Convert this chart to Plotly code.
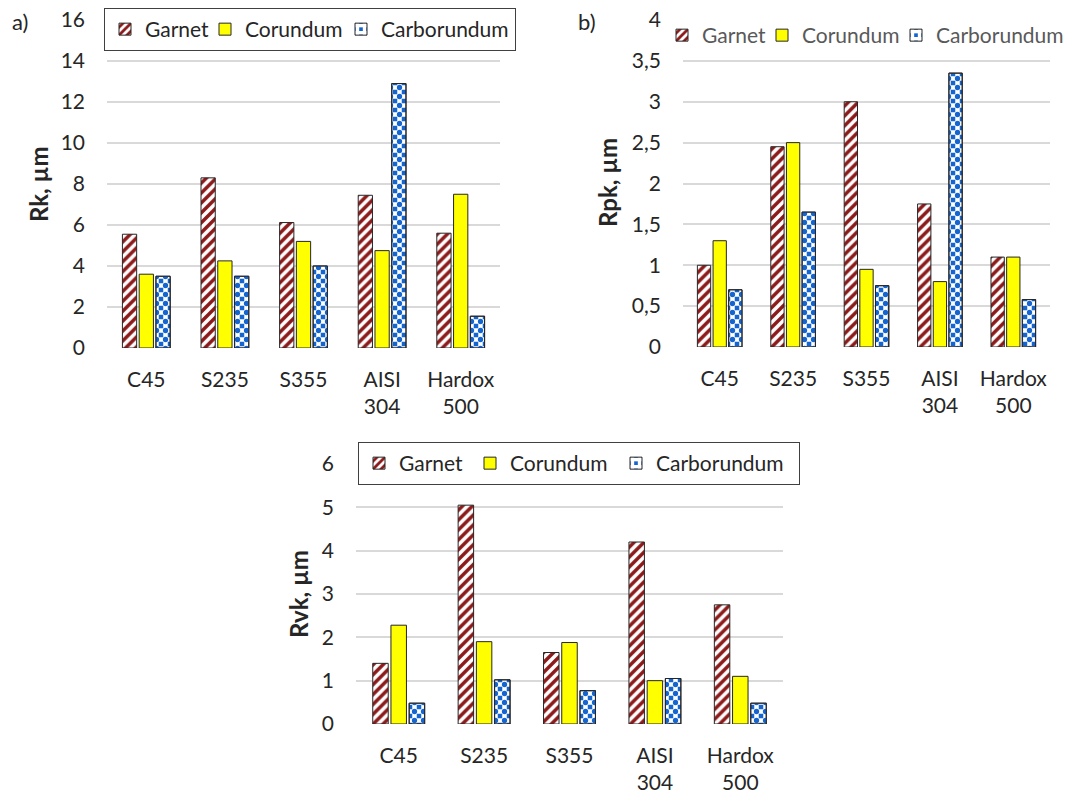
import plotly.graph_objects as go

# Materials (x categories) and the three roughness parameters
materials = ["C45", "S235", "S355", "AISI<br>304", "Hardox<br>500"]

rk_garnet = [5.55, 8.3, 6.12, 7.45, 5.6]
rk_corundum = [3.6, 4.25, 5.2, 4.75, 7.5]
rk_carborundum = [3.5, 3.5, 4.0, 12.9, 1.55]

rpk_garnet = [1.0, 2.45, 3.0, 1.75, 1.1]
rpk_corundum = [1.3, 2.5, 0.95, 0.8, 1.1]
rpk_carborundum = [0.7, 1.65, 0.75, 3.35, 0.58]

rvk_garnet = [1.4, 5.05, 1.65, 4.2, 2.75]
rvk_corundum = [2.28, 1.9, 1.88, 1.0, 1.1]
rvk_carborundum = [0.48, 1.02, 0.77, 1.05, 0.48]

W, H = 1069, 801
FONT = "Lato"
TXT = "#262626"
RED = "#8C1A1A"
YEL = "#FFFF00"
BLUE = "#1565D0"
EDGE = "#262626"
GRID = "#D9D9D9"

panels = [
    # (axis suffix, legend, garnet, corundum, carborundum, legend entry widths)
    ("", "legend", rk_garnet, rk_corundum, rk_carborundum, (55, 91, 129)),
    ("2", "legend2", rpk_garnet, rpk_corundum, rpk_carborundum, (55, 89, 130)),
    ("3", "legend3", rvk_garnet, rvk_corundum, rvk_carborundum, (66, 101, 138)),
]

fig = go.Figure()
for sfx, leg, g, c, k, lw in panels:
    xa, ya = "x" + sfx, "y" + sfx
    common = dict(x=materials, xaxis=xa, yaxis=ya, legend=leg)
    fig.add_trace(go.Bar(
        y=g, name="Garnet", offsetgroup="g", legendwidth=lw[0], **common,
        marker=dict(color="white", line=dict(color=EDGE, width=1),
                    pattern=dict(shape="/", fgcolor=RED, bgcolor="white",
                                 fgopacity=1, size=7, solidity=0.5)),
    ))
    fig.add_trace(go.Bar(
        y=c, name="Corundum", offsetgroup="c", legendwidth=lw[1], **common,
        marker=dict(color=YEL, line=dict(color=EDGE, width=1)),
    ))
    # checkerboard: white cross-lines on blue leave blue squares at the tile
    # corners; a second layer fills the tile centres
    fig.add_trace(go.Bar(
        y=k, name="Carborundum", offsetgroup="k", legendwidth=lw[2], **common,
        marker=dict(color=BLUE, line=dict(color=EDGE, width=1),
                    pattern=dict(shape="+", fgcolor="white", bgcolor=BLUE,
                                 fgopacity=1, size=9, solidity=0.75)),
    ))
    fig.add_trace(go.Bar(
        y=k, name="Carborundum", offsetgroup="k", showlegend=False,
        hoverinfo="skip", **common,
        marker=dict(color="rgba(0,0,0,0)", line=dict(color=EDGE, width=1),
                    pattern=dict(shape=".", fgcolor=BLUE, fgopacity=1,
                                 bgcolor="rgba(0,0,0,0)", size=9, solidity=0.27)),
    ))


def px_x(p):
    return p / W


def px_y(p):
    return 1 - p / H


axis_font = dict(family=FONT, size=21, color=TXT)
xcommon = dict(showgrid=False, showline=False, zeroline=False, ticks="",
               tickfont=axis_font, ticklabelstandoff=17, fixedrange=True,
               automargin=False)
ycommon = dict(showgrid=True, gridcolor=GRID, gridwidth=1.5, showline=False,
               zeroline=False, ticks="", tickfont=axis_font,
               ticklabelstandoff=21, fixedrange=True, automargin=False)

leg_font = dict(family=FONT, size=21, color=TXT)


def label(text, x, y, size, angle=0):
    return dict(text=text, x=px_x(x), y=px_y(y), xref="paper", yref="paper",
                xanchor="center", yanchor="middle", textangle=angle,
                showarrow=False, font=dict(family=FONT, size=size, color=TXT))


fig.update_layout(
    template="none",
    width=W, height=H,
    margin=dict(l=0, r=0, t=0, b=0, autoexpand=False),
    paper_bgcolor="white", plot_bgcolor="white",
    barmode="group", bargap=0.36, bargroupgap=0.15,
    separators=", ",
    font=dict(family=FONT, color=TXT),
    hovermode=False,
    xaxis=dict(domain=[px_x(107), px_x(500)], anchor="y", **xcommon),
    yaxis=dict(domain=[px_y(348), px_y(20)], anchor="x", range=[0, 16],
               dtick=2, **ycommon),
    xaxis2=dict(domain=[px_x(683), px_x(1050)], anchor="y2", **xcommon),
    yaxis2=dict(domain=[px_y(347), px_y(20)], anchor="x2", range=[0, 4],
                dtick=0.5, **ycommon),
    xaxis3=dict(domain=[px_x(356), px_x(783)], anchor="y3", **xcommon),
    yaxis3=dict(domain=[px_y(724), px_y(464)], anchor="x3", range=[0, 6],
                dtick=1, **ycommon),
    legend=dict(orientation="h", x=px_x(104), y=px_y(8), xanchor="left",
                yanchor="top", bgcolor="white", bordercolor="#404040",
                borderwidth=1, font=leg_font, traceorder="normal"),
    legend2=dict(orientation="h", x=px_x(662), y=px_y(15), xanchor="left",
                 yanchor="top", bgcolor="rgba(0,0,0,0)", borderwidth=0,
                 font=dict(family=FONT, size=21, color="#595959"),
                 traceorder="normal"),
    legend3=dict(orientation="h", x=px_x(358), y=px_y(442), xanchor="left",
                 yanchor="top", bgcolor="white", bordercolor="#404040",
                 borderwidth=1, font=leg_font, traceorder="normal"),
    annotations=[
        label("a)", 20, 22, 22),
        label("b)", 587, 22, 22),
        label("<b>Rk, µm</b>", 38, 184, 24, -90),
        label("<b>Rpk, µm</b>", 607, 183, 24, -90),
        label("<b>Rvk, µm</b>", 298, 594, 24, -90),
    ],
)

fig.write_html("out.html")
